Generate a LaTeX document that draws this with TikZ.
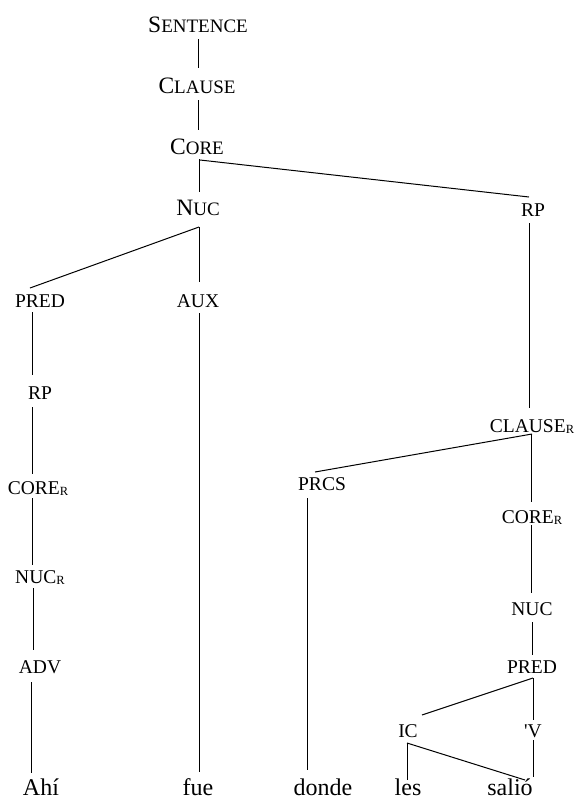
\documentclass[tikz,border=0pt]{standalone}
\usepackage{fontspec}
\setmainfont{Liberation Serif}
\newcommand\mysc[2]{{\fontsize{23.5}{24}\selectfont #1}{\fontsize{19}{20}\selectfont #2}}
\newcommand\mysub[1]{{\fontsize{12.5}{12}\selectfont\raisebox{-1pt}{#1}}}
\begin{document}
\begin{tikzpicture}[x=1pt,y=-1pt,
  lab/.style={anchor=base,inner sep=0pt,font=\fontsize{19.5}{20}\selectfont},
  word/.style={anchor=base,inner sep=0pt,font=\fontsize{24}{26}\selectfont},
  edge/.style={line width=1pt,black}]
\useasboundingbox[fill=white] (0,0) rectangle (577,801);
% nodes
\node[lab] (sentence) at (198,32) {\mysc{S}{ENTENCE}};
\node[lab] (clause) at (197,93) {\mysc{C}{LAUSE}};
\node[lab] (core) at (197,154) {\mysc{C}{ORE}};
\node[lab] (nuc) at (198,215) {\mysc{N}{UC}};
\node[lab] (rpR) at (533,216) {RP};
\node[lab] (predL) at (40,307) {PRED};
\node[lab] (aux) at (198,307) {AUX};
\node[lab] (rpL) at (40,399) {RP};
\node[lab] (coreRL) at (38,494) {CORE\mysub{R}};
\node[lab] (nucRL) at (40,583) {NUC\mysub{R}};
\node[lab] (adv) at (40,673) {ADV};
\node[lab] (clauseR) at (532,432) {CLAUSE\mysub{R}};
\node[lab] (prcs) at (322,490) {PRCS};
\node[lab] (coreRR) at (532,523) {CORE\mysub{R}};
\node[lab] (nucR) at (532,615) {NUC};
\node[lab] (predR) at (532,673) {PRED};
\node[lab] (ic) at (408,737) {IC};
\node[lab] (v) at (533,737) {\textquotesingle V};
\node[word] (ahi) at (41,795) {Ahí};
\node[word] (fue) at (198,795) {fue};
\node[word] (donde) at (323,795) {donde};
\node[word] (les) at (408,795) {les};
\node[word] (salio) at (510,795) {salió};
% connectors
\draw[edge] ([shift={(0,7)}]sentence.base) -- ([shift={(1,-25)}]clause.base);
\draw[edge] ([shift={(1,7)}]clause.base) -- ([shift={(1,-24)}]core.base);
\draw[edge] ([shift={(2,5)}]core.base) -- ([shift={(1,-23)}]nuc.base);
\draw[edge] ([shift={(3,6)}]core.base) -- ([shift={(-4,-19)}]rpR.base);
\draw[edge] ([shift={(1,12)}]nuc.base) -- ([shift={(-10,-19)}]predL.base);
\draw[edge] ([shift={(1,12)}]nuc.base) -- ([shift={(1,-25)}]aux.base);
\draw[edge] ([shift={(1,6)}]aux.base) -- ([shift={(1,-23)}]fue.base);
\draw[edge] ([shift={(-8,5)}]predL.base) -- ([shift={(-8,-24)}]rpL.base);
\draw[edge] ([shift={(-8,8)}]rpL.base) -- ([shift={(-6,-20)}]coreRL.base);
\draw[edge] ([shift={(-6,4)}]coreRL.base) -- ([shift={(-8,-18)}]nucRL.base);
\draw[edge] ([shift={(-7,5)}]nucRL.base) -- ([shift={(-7,-23)}]adv.base);
\draw[edge] ([shift={(-9,9)}]adv.base) -- ([shift={(-10,-22)}]ahi.base);
\draw[edge] ([shift={(-4,7)}]rpR.base) -- ([shift={(-3,-24)}]clauseR.base);
\draw[edge] ([shift={(0,2)}]clauseR.base) -- ([shift={(-7,-18)}]prcs.base);
\draw[edge] ([shift={(-1,2)}]clauseR.base) -- ([shift={(-1,-21)}]coreRR.base);
\draw[edge] ([shift={(-15,8)}]prcs.base) -- ([shift={(-16,-25)}]donde.base);
\draw[edge] ([shift={(-1,2)}]coreRR.base) -- ([shift={(-1,-22)}]nucR.base);
\draw[edge] ([shift={(0,7)}]nucR.base) -- ([shift={(0,-18)}]predR.base);
\draw[edge] ([shift={(1,5)}]predR.base) -- ([shift={(14,-22)}]ic.base);
\draw[edge] ([shift={(1,5)}]predR.base) -- ([shift={(0,-17)}]v.base);
\draw[edge] ([shift={(0,3)}]v.base) -- ([shift={(23,-18)}]salio.base);
\draw[edge] ([shift={(-1,6)}]ic.base) -- ([shift={(-1,-15)}]les.base);
\draw[edge] ([shift={(-1,6)}]ic.base) -- ([shift={(15,-15)}]salio.base);
\end{tikzpicture}
\end{document}
